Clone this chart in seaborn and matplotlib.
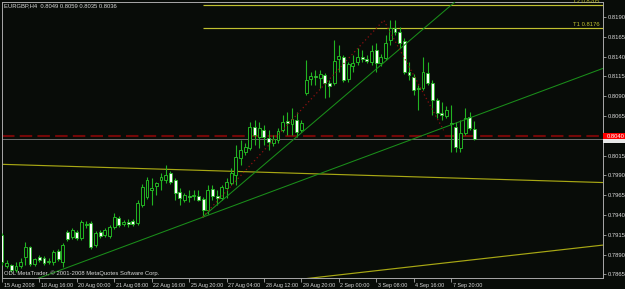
import matplotlib
matplotlib.use("Agg")
import matplotlib.pyplot as plt
import matplotlib.transforms as mtransforms
from matplotlib.patches import Rectangle
import seaborn as sns
import pandas as pd

# ---------------- data ----------------
opens = [0.7915, 0.7876, 0.7877, 0.7871, 0.7876, 0.7887, 0.7900, 0.7878, 0.7887, 0.7886,
         0.7881, 0.7881, 0.7895, 0.7881, 0.7919, 0.7912, 0.7919, 0.7911, 0.7927, 0.7930,
         0.7902, 0.7919, 0.7915, 0.7914, 0.7925, 0.7936, 0.7929, 0.7931, 0.7932, 0.7930,
         0.7953, 0.7963, 0.7972, 0.7977, 0.7984, 0.7984, 0.7993, 0.7984, 0.7969, 0.7959,
         0.7964, 0.7964, 0.7964, 0.7960, 0.7946, 0.7973, 0.7964, 0.7962, 0.7974, 0.7980,
         0.7991, 0.8012, 0.8020, 0.8025, 0.8051, 0.8039, 0.8047, 0.8037, 0.8031, 0.8035,
         0.8047, 0.8059, 0.8055, 0.8060, 0.8047, 0.8094, 0.8112, 0.8116, 0.8113, 0.8117,
         0.8107, 0.8107, 0.8137, 0.8140, 0.8112, 0.8128, 0.8133, 0.8140, 0.8137, 0.8133,
         0.8148, 0.8132, 0.8138, 0.8161, 0.8176, 0.8171, 0.8160, 0.8121, 0.8114, 0.8099,
         0.8100, 0.8119, 0.8107, 0.8085, 0.8069, 0.8065, 0.8055, 0.8051, 0.8025, 0.8044,
         0.8064, 0.8049]
highs = [0.7917, 0.7883, 0.7878, 0.7881, 0.7886, 0.7906, 0.7901, 0.7886, 0.7890, 0.7888,
         0.7886, 0.7896, 0.7897, 0.7905, 0.7921, 0.7923, 0.7921, 0.7934, 0.7932, 0.7932,
         0.7920, 0.7921, 0.7924, 0.7927, 0.7943, 0.7939, 0.7934, 0.7935, 0.7935, 0.7959,
         0.7979, 0.7988, 0.7987, 0.7982, 0.7993, 0.8003, 0.7996, 0.7987, 0.7974, 0.7968,
         0.7972, 0.7972, 0.7972, 0.7963, 0.7978, 0.7978, 0.7972, 0.7978, 0.7987, 0.7999,
         0.8028, 0.8035, 0.8031, 0.8057, 0.8060, 0.8057, 0.8054, 0.8047, 0.8041, 0.8050,
         0.8066, 0.8070, 0.8075, 0.8070, 0.8060, 0.8136, 0.8121, 0.8123, 0.8123, 0.8119,
         0.8110, 0.8161, 0.8155, 0.8142, 0.8133, 0.8142, 0.8151, 0.8148, 0.8142, 0.8155,
         0.8157, 0.8143, 0.8167, 0.8186, 0.8186, 0.8177, 0.8164, 0.8133, 0.8118, 0.8104,
         0.8140, 0.8133, 0.8110, 0.8088, 0.8083, 0.8078, 0.8079, 0.8057, 0.8060, 0.8075,
         0.8070, 0.8059]
lows = [0.7877, 0.7873, 0.7868, 0.7868, 0.7873, 0.7877, 0.7876, 0.7876, 0.7881, 0.7877,
        0.7878, 0.7877, 0.7882, 0.7874, 0.7907, 0.7910, 0.7908, 0.7908, 0.7924, 0.7897,
        0.7900, 0.7911, 0.7912, 0.7911, 0.7922, 0.7925, 0.7926, 0.7925, 0.7926, 0.7927,
        0.7950, 0.7960, 0.7953, 0.7965, 0.7972, 0.7980, 0.7979, 0.7959, 0.7953, 0.7956,
        0.7956, 0.7959, 0.7958, 0.7937, 0.7941, 0.7959, 0.7953, 0.7959, 0.7962, 0.7978,
        0.7978, 0.8003, 0.8016, 0.8022, 0.8028, 0.8025, 0.8028, 0.8022, 0.8027, 0.8031,
        0.8045, 0.8041, 0.8041, 0.8039, 0.8045, 0.8092, 0.8104, 0.8104, 0.8100, 0.8088,
        0.8089, 0.8104, 0.8121, 0.8108, 0.8108, 0.8121, 0.8129, 0.8133, 0.8132, 0.8129,
        0.8121, 0.8128, 0.8136, 0.8155, 0.8167, 0.8151, 0.8118, 0.8110, 0.8092, 0.8073,
        0.8098, 0.8104, 0.8066, 0.8062, 0.8060, 0.8062, 0.8020, 0.8020, 0.8020, 0.8041,
        0.8047, 0.8035]
closes = [0.7881, 0.7879, 0.7871, 0.7876, 0.7881, 0.7900, 0.7878, 0.7885, 0.7883, 0.7879,
          0.7882, 0.7893, 0.7885, 0.7902, 0.7910, 0.7921, 0.7911, 0.7931, 0.7929, 0.7900,
          0.7917, 0.7914, 0.7921, 0.7925, 0.7938, 0.7927, 0.7931, 0.7929, 0.7929, 0.7955,
          0.7975, 0.7984, 0.7974, 0.7980, 0.7988, 0.7991, 0.7982, 0.7968, 0.7962, 0.7965,
          0.7963, 0.7965, 0.7959, 0.7946, 0.7972, 0.7964, 0.7962, 0.7975, 0.7982, 0.7993,
          0.8013, 0.8022, 0.8026, 0.8051, 0.8041, 0.8050, 0.8039, 0.8032, 0.8036, 0.8046,
          0.8057, 0.8056, 0.8061, 0.8045, 0.8056, 0.8110, 0.8116, 0.8114, 0.8118, 0.8107,
          0.8103, 0.8134, 0.8141, 0.8110, 0.8131, 0.8132, 0.8140, 0.8137, 0.8134, 0.8147,
          0.8132, 0.8140, 0.8157, 0.8176, 0.8171, 0.8157, 0.8121, 0.8117, 0.8098, 0.8100,
          0.8121, 0.8107, 0.8085, 0.8069, 0.8066, 0.8073, 0.8056, 0.8026, 0.8044, 0.8062,
          0.8050, 0.8036]

date_tick_bars = [0, 8, 16, 24, 32, 40, 48, 56, 64, 72, 80, 88, 96]
date_tick_labels = ["15 Aug 2008", "18 Aug 16:00", "20 Aug 00:00", "21 Aug 08:00",
                    "22 Aug 16:00", "25 Aug 20:00", "27 Aug 04:00", "28 Aug 12:00",
                    "29 Aug 20:00", "2 Sep 00:00", "3 Sep 08:00", "4 Sep 16:00",
                    "7 Sep 20:00"]
price_ticks = [0.8190, 0.8165, 0.8140, 0.8115, 0.8090, 0.8065, 0.8015,
               0.7990, 0.7965, 0.7940, 0.7915, 0.7890, 0.7865]
price_tick_labels = ["0.8190", "0.8165", "0.8140", "0.8115", "0.8090", "0.8065", "0.8015",
                     "0.7990", "0.7965", "0.7940", "0.7915", "0.7890", "0.7865"]

title_text = "EURGBP,H4  0.8049 0.8059 0.8035 0.8036"
copyright_text = "ODL MetaTrader, \u00a9 2001-2008 MetaQuotes Software Corp."

# chart objects
t_levels = [0.8176, 0.8205]
t_labels = ["T1 0.8176", "T2 0.8205"]
t_start_bar = 42.9
hline_level = 0.8040
hline_label = "0.8040"
bid_level = 0.8036
green_shallow_bars = [0.0, 128.4]
green_shallow_prices = [0.7843, 0.8125]
green_steep_bars = [42.9, 100.0]
green_steep_prices = [0.79375, 0.8225]
red_path_bars = [42.9, 81.6, 94.4]
red_path_prices = [0.79375, 0.8186, 0.8047]
yellow_upper_bars = [0.0, 128.4]
yellow_upper_prices = [0.8004, 0.7981]
yellow_lower_bars = [40.0, 128.4]
yellow_lower_prices = [0.7843, 0.7902]

# ---------------- style ----------------
BG = "#080c08"
GREEN = "#22b422"
TGREEN = "#1a8e1a"
YEL = "#a8a814"
TYEL = "#c0c030"
GRID = "#a8a8a8"
TXT = "#d8d8d8"

sns.set_theme(style="dark", rc={"axes.facecolor": BG, "figure.facecolor": BG,
                                "savefig.facecolor": BG, "axes.grid": False})
plt.rcParams["font.family"] = ["Liberation Sans", "DejaVu Sans"]
FS = 4.2
XFS = 3.9

W, H = 625, 289
fig = plt.figure(figsize=(W / 100, H / 100), dpi=100)
L, T, R, B = 1.7, 1.7, 602.7, 278.3
ax = fig.add_axes([L / W, 1 - B / H, (R - L) / W, (B - T) / H])
ax.set_facecolor(BG)

df = pd.DataFrame({"bar": range(len(opens)), "open": opens, "high": highs,
                   "low": lows, "close": closes})
df["bull"] = df["close"] >= df["open"]
df["bottom"] = df[["open", "close"]].min(axis=1)
df["height"] = (df["close"] - df["open"]).abs().clip(lower=0.00007)

# wicks
ax.vlines(df["bar"], df["low"], df["high"], color=GREEN, lw=0.8, zorder=3)
# bodies
bw = 0.62
bull = df[df["bull"]]
bear = df[~df["bull"]]
ax.bar(bull["bar"], bull["height"], bottom=bull["bottom"], width=bw,
       facecolor=BG, edgecolor=GREEN, linewidth=0.7, zorder=4)
ax.bar(bear["bar"], bear["height"], bottom=bear["bottom"], width=bw,
       facecolor="white", edgecolor=GREEN, linewidth=0.6, zorder=4)

# horizontal lines
ax.axhline(hline_level, color="#740808", lw=1.5, dashes=(6, 2.5), zorder=2)
ax.axhline(bid_level, color="#6e6e6e", lw=0.7, zorder=2)

# trend lines
sns.lineplot(x=green_shallow_bars, y=green_shallow_prices, ax=ax, color=TGREEN, lw=0.75, zorder=5)
sns.lineplot(x=green_steep_bars, y=green_steep_prices, ax=ax, color=TGREEN, lw=0.75, zorder=5)
ax.plot(red_path_bars, red_path_prices, color="#8c1010", lw=0.9, ls=(0, (1, 2.2)), zorder=5)
sns.lineplot(x=yellow_upper_bars, y=yellow_upper_prices, ax=ax, color=YEL, lw=0.85, zorder=2)
sns.lineplot(x=yellow_lower_bars, y=yellow_lower_prices, ax=ax, color=YEL, lw=0.85, zorder=2)

# target levels
for lev, lab in zip(t_levels, t_labels):
    ax.hlines(lev, t_start_bar, 130, color=TYEL, lw=0.85, zorder=2)
    ax.text(127.7, lev + 0.00016, lab, color=TYEL, fontsize=FS, ha="right",
            va="bottom", zorder=6)

ax.set_xlim(-0.05, 128.4)
ax.set_ylim(0.78601, 0.82093)

# axes frame / ticks
for s in ax.spines.values():
    s.set_color(GRID)
    s.set_linewidth(0.7)
ax.yaxis.tick_right()
ax.set_yticks(price_ticks, price_tick_labels)
ax.set_xticks(date_tick_bars, date_tick_labels)
ax.tick_params(axis="y", right=True, left=False, labelright=True, labelleft=False,
               length=2.2, width=0.6, color=GRID, pad=1.2, labelsize=FS, labelcolor=TXT)
ax.tick_params(axis="x", bottom=True, length=2.6, width=0.6, color=GRID, pad=0.9,
               labelsize=XFS, labelcolor=TXT)
off = mtransforms.ScaledTranslation(1.6 / 100, 0, fig.dpi_scale_trans)
for lbl in ax.get_xticklabels():
    lbl.set_ha("left")
    lbl.set_transform(lbl.get_transform() + off)
ax.set_xlabel("")
ax.set_ylabel("")
ax.grid(False)

# texts inside chart
fig.text(4.5 / W, 1 - 5.6 / H, title_text, color=TXT, fontsize=FS, ha="left", va="center")
fig.text(4.5 / W, 1 - 273.5 / H, copyright_text, color=TXT, fontsize=FS, ha="left", va="center")

# price labels on the scale
fig.patches.append(Rectangle((603 / W, 1 - 142.5 / H), 22 / W, 3.5 / H,
                             transform=fig.transFigure, facecolor="#e8e8e8",
                             edgecolor="none", zorder=5))
fig.patches.append(Rectangle((603 / W, 1 - 139 / H), 22 / W, 6 / H,
                             transform=fig.transFigure, facecolor="#ff0000",
                             edgecolor="none", zorder=6))
fig.text(606.5 / W, 1 - 136 / H, hline_label, color="#ffffff", fontsize=FS,
         ha="left", va="center", zorder=7)

fig.savefig("out.png", dpi=100, facecolor=BG)
